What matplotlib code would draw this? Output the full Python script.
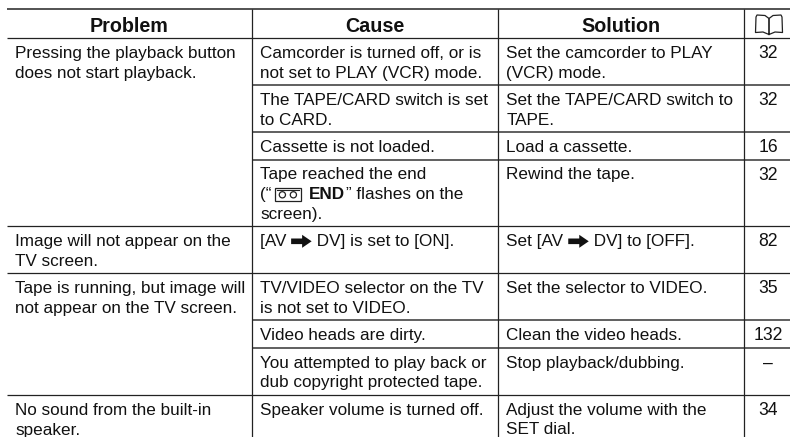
import matplotlib
matplotlib.use("Agg")
import matplotlib.pyplot as plt
from matplotlib.patches import Polygon, Rectangle, Circle

plt.rcParams['font.family'] = ['Liberation Sans', 'DejaVu Sans']

headers = ["Problem", "Cause", "Solution"]

# one entry per table row, "" means the problem cell carries on from above
problems = [
    "Pressing the playback button\ndoes not start playback.",
    "", "", "",
    "Image will not appear on the\nTV screen.",
    "Tape is running, but image will\nnot appear on the TV screen.",
    "", "",
    "No sound from the built-in\nspeaker.",
]
causes = [
    "Camcorder is turned off, or is\nnot set to PLAY (VCR) mode.",
    "The TAPE/CARD switch is set\nto CARD.",
    "Cassette is not loaded.",
    "Tape reached the end\n(“<tape>*END*” flashes on the\nscreen).",
    "[AV <arrow> DV] is set to [ON].",
    "TV/VIDEO selector on the TV\nis not set to VIDEO.",
    "Video heads are dirty.",
    "You attempted to play back or\ndub copyright protected tape.",
    "Speaker volume is turned off.",
]
solutions = [
    "Set the camcorder to PLAY\n(VCR) mode.",
    "Set the TAPE/CARD switch to\nTAPE.",
    "Load a cassette.",
    "Rewind the tape.",
    "Set [AV <arrow> DV] to [OFF].",
    "Set the selector to VIDEO.",
    "Clean the video heads.",
    "Stop playback/dubbing.",
    "Adjust the volume with the\nSET dial.",
]
pages = ["32", "32", "16", "32", "82", "35", "132", "–", "34"]

# layout in pixels
W, H = 790, 437
row_tops = [38, 85, 131.5, 159.5, 226.3, 273, 319.7, 347.7, 394.7]
col_x = [7, 252, 498, 744]
text_x = [15, 260, 506.5]
FS = 12.3
LINE = 19.8

fig = plt.figure(figsize=(W / 100, H / 100), dpi=100)
ax = fig.add_axes([0, 0, 1, 1])
ax.set_xlim(0, W)
ax.set_ylim(H, 0)
ax.axis("off")
fig.canvas.draw()
rend = fig.canvas.get_renderer()


def arrow(x, y):
    pts = [(x, y - 2.8), (x + 11, y - 2.8), (x + 11, y - 6.5), (x + 20.5, y),
           (x + 11, y + 6.5), (x + 11, y + 2.8), (x, y + 2.8)]
    ax.add_patch(Polygon(pts, closed=True, color="#111111", lw=0))


def tape(x, y):
    ax.add_patch(Rectangle((x, y - 6.5), 26, 13, fill=False, ec="#222222", lw=0.9))
    ax.plot([x + 2, x + 24], [y - 4.5, y - 4.5], color="#222222", lw=0.8)
    for cx in (x + 7.5, x + 18.5):
        ax.add_patch(Circle((cx, y + 0.5), 3.1, fill=False, ec="#222222", lw=0.9))


def put(x, y, s, **kw):
    t = ax.text(x, y, s, fontsize=FS, color="#111111", va="baseline", **kw)
    return x + t.get_window_extent(rend).width


def draw_line(x, y, line):
    # plain text, with a few inline glyphs and a bold word
    while line:
        if line.startswith("<arrow>"):
            arrow(x, y - 5)
            x += 21
            line = line[7:]
        elif line.startswith("<tape>"):
            tape(x + 3.5, y - 5)
            x += 38
            line = line[6:]
        elif line.startswith("*"):
            end = line.index("*", 1)
            x = put(x, y, line[1:end], fontweight="bold")
            line = line[end + 1:]
        else:
            cut = [line.find(k) for k in ("<", "*") if line.find(k) > 0]
            end = min(cut) if cut else len(line)
            x = put(x, y, line[:end])
            line = line[end:]


def draw_cell(x, top, text):
    for i, line in enumerate(text.split("\n")):
        draw_line(x, top + 20 + i * LINE, line)


# rules
ax.plot([col_x[0], W], [9, 9], color="#444444", lw=1.3, solid_capstyle="butt")
for i, top in enumerate(row_tops):
    full = i == 0 or problems[i]
    x0 = col_x[0] if full else col_x[1]
    ax.plot([x0, W], [top, top], color="#222222" if full else "#444444",
            lw=0.9 if full else 1.2, solid_capstyle="butt")
for x in col_x[1:]:
    ax.plot([x, x], [9, H], color="#222222", lw=0.9, solid_capstyle="butt")

# header
for name, c in zip(headers, [129, 375, 621]):
    ax.text(c, 31.5, name, fontsize=14.2, fontweight="bold", color="#111111",
            ha="center", va="baseline")

# book icon
left = [769, 769, 765, 757, 756, 755.5, 763, 769]
right = [2 * 769 - v for v in left]
ys = [33.5, 18.5, 15.5, 15, 17, 32.5, 32, 34.5]
ax.plot(left, ys, color="#222222", lw=0.9)
ax.plot(right, ys, color="#222222", lw=0.9)

# body
for i, top in enumerate(row_tops):
    if problems[i]:
        draw_cell(text_x[0], top, problems[i])
    draw_cell(text_x[1], top, causes[i])
    draw_cell(text_x[2], top, solutions[i])
    ax.text(768, top + 20, pages[i], fontsize=FS + 0.4, color="#111111",
            ha="center", va="baseline")

fig.savefig("out.png", dpi=100)
